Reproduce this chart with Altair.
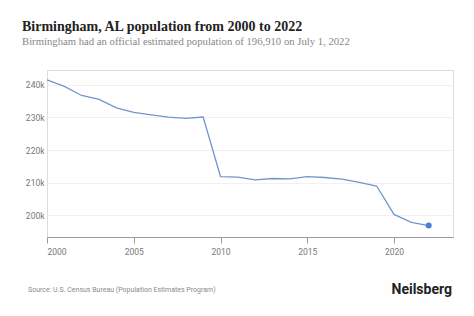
import altair as alt
import pandas as pd

years = list(range(2000, 2023))
population = [241500, 239500, 236700, 235500, 232900, 231500, 230800, 230100, 229700, 230100,
              211900, 211700, 210900, 211300, 211200, 211900, 211600, 211100, 210100, 209000,
              200300, 197900, 196910]
x_ticks = [2000, 2005, 2010, 2015, 2020]
y_ticks = [200000, 210000, 220000, 230000, 240000]

df = pd.DataFrame({"year": years, "population": population})
last = df.tail(1)

x = alt.X("year:Q", scale=alt.Scale(domain=[2000, 2023.4], nice=False, zero=False),
          axis=alt.Axis(values=x_ticks, format="d", title=None, grid=False,
                        domainColor="#9a9a9a", tickColor="#9a9a9a", tickSize=6,
                        labelColor="#777", labelFont="Roboto", labelFontSize=8.5, labelPadding=4))
y = alt.Y("population:Q", scale=alt.Scale(domain=[193400, 244500], nice=False, zero=False),
          axis=alt.Axis(values=y_ticks, title=None, domain=False, ticks=False,
                        gridColor="#f1f1f1", labelColor="#777", labelFont="Roboto",
                        labelFontSize=8.5, labelPadding=3,
                        labelExpr="datum.value/1000 + 'k'"))

line = alt.Chart(df).mark_line(color="#7396c8", strokeWidth=1.3).encode(x=x, y=y)
dot = alt.Chart(last).mark_point(filled=True, size=36, color="#4a7fd6", opacity=1).encode(x=x, y=y)

src = alt.Chart(pd.DataFrame({"t": ["Source: U.S. Census Bureau (Population Estimates Program)"]})).mark_text(
    align="left", baseline="middle", font="Roboto", fontSize=7.0, color="#8a8a8a").encode(
    text="t", x=alt.value(-19), y=alt.value(220))
brand = alt.Chart(pd.DataFrame({"t": ["Neilsberg"]})).mark_text(
    align="right", baseline="middle", font="Roboto", fontSize=14, fontWeight="bold", color="#222").encode(
    text="t", x=alt.value(405), y=alt.value(220))

chart = alt.layer(line, dot, src, brand).properties(
    width=406, height=167,
    padding={"left": 47, "top": 70, "right": 21, "bottom": 79},
    autosize=alt.AutoSizeParams(type="none"),
    title=alt.Title("Birmingham, AL population from 2000 to 2022",
                    subtitle="Birmingham had an official estimated population of 196,910 on July 1, 2022",
                    anchor="start", frame="group", dx=-25, offset=23,
                    font="Liberation Serif", fontSize=14, fontWeight="bold", color="#222",
                    subtitleFont="Liberation Serif", subtitleFontSize=10.7, subtitleColor="#888",
                    subtitlePadding=3),
).configure_view(stroke=None).configure(background="white")

chart.save("out.html", embed_options={"renderer": "svg", "actions": False})
